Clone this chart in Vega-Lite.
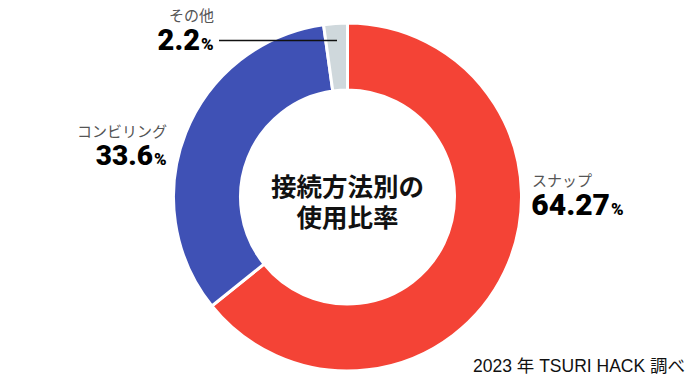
{
  "$schema": "https://vega.github.io/schema/vega-lite/v6.json",
  "autosize": {"type": "fit", "contains": "padding"},
  "width": 695,
  "height": 380,
  "padding": {"left": 0, "right": 0, "top": 14, "bottom": 0},
  "background": "white",
  "view": {"stroke": null},
  "data": {"values": [
    {"category": "スナップ", "value": 64.27, "label": "64.27", "rank": 1},
    {"category": "コンビリング", "value": 33.6, "label": "33.6", "rank": 2},
    {"category": "その他", "value": 2.2, "label": "2.2", "rank": 3}
  ]},
  "layer": [
    {
      "mark": {"type": "arc", "innerRadius": 107, "outerRadius": 174, "stroke": "white", "strokeWidth": 3},
      "encoding": {
        "theta": {"field": "value", "type": "quantitative", "stack": true},
        "order": {"field": "rank", "type": "quantitative"},
        "color": {"field": "category", "type": "nominal", "legend": null,
          "scale": {"domain": ["スナップ", "コンビリング", "その他"], "range": ["#f44336", "#3f51b5", "#cfd8dc"]}}
      }
    },
    {
      "data": {"values": [{}]},
      "mark": {"type": "text", "text": "接続方法別の", "font": "Noto Sans CJK JP", "fontWeight": "bold", "fontSize": 25.5, "align": "center", "baseline": "alphabetic", "dy": -1, "color": "#111"}
    },
    {
      "data": {"values": [{}]},
      "mark": {"type": "text", "text": "使用比率", "font": "Noto Sans CJK JP", "fontWeight": "bold", "fontSize": 25.5, "align": "center", "baseline": "alphabetic", "dy": 30, "color": "#111"}
    },
    {
      "data": {"values": [{}]},
      "mark": {"type": "text", "text": "2023 年 TSURI HACK 調べ", "font": "Liberation Sans, Noto Sans CJK JP", "fontSize": 17.5, "align": "right", "baseline": "alphabetic", "dx": 337.5, "dy": 175, "color": "#111"}
    },
    {
      "data": {"values": [{}]},
      "mark": {"type": "rule", "stroke": "#111", "strokeWidth": 1.5},
      "encoding": {
        "x": {"value": {"expr": "width/2-128.5"}},
        "x2": {"value": {"expr": "width/2-10.5"}},
        "y": {"value": {"expr": "height/2-156.5"}}
      }
    },
    {
      "transform": [{"filter": "datum.category === 'その他'"}],
      "mark": {"type": "text", "font": "Noto Sans CJK JP", "fontSize": 15, "align": "right", "baseline": "alphabetic", "dx": -133.5, "dy": -176, "color": "#555"},
      "encoding": {"text": {"field": "category"}}
    },
    {
      "transform": [{"filter": "datum.category === 'その他'"}],
      "mark": {"type": "text", "font": "Roboto", "fontWeight": 900, "fontSize": 29, "align": "right", "baseline": "alphabetic", "dx": -147.5, "dy": -147, "color": "#000"},
      "encoding": {"text": {"field": "label"}}
    },
    {
      "transform": [{"filter": "datum.category === 'その他'"}],
      "mark": {"type": "text", "text": "%", "font": "Roboto", "fontWeight": 900, "fontSize": 17, "align": "left", "baseline": "alphabetic", "dx": -146.5, "dy": -147, "color": "#000"}
    },
    {
      "transform": [{"filter": "datum.category === 'コンビリング'"}],
      "mark": {"type": "text", "font": "Noto Sans CJK JP", "fontSize": 15, "align": "right", "baseline": "alphabetic", "dx": -180.5, "dy": -60, "color": "#555"},
      "encoding": {"text": {"field": "category"}}
    },
    {
      "transform": [{"filter": "datum.category === 'コンビリング'"}],
      "mark": {"type": "text", "font": "Roboto", "fontWeight": 900, "fontSize": 28, "align": "right", "baseline": "alphabetic", "dx": -194.5, "dy": -32, "color": "#000"},
      "encoding": {"text": {"field": "label"}}
    },
    {
      "transform": [{"filter": "datum.category === 'コンビリング'"}],
      "mark": {"type": "text", "text": "%", "font": "Roboto", "fontWeight": 900, "fontSize": 17, "align": "left", "baseline": "alphabetic", "dx": -193.5, "dy": -32, "color": "#000"}
    },
    {
      "transform": [{"filter": "datum.category === 'スナップ'"}],
      "mark": {"type": "text", "font": "Noto Sans CJK JP", "fontSize": 15, "align": "left", "baseline": "alphabetic", "dx": 184.5, "dy": -11, "color": "#555"},
      "encoding": {"text": {"field": "category"}}
    },
    {
      "transform": [{"filter": "datum.category === 'スナップ'"}],
      "mark": {"type": "text", "font": "Roboto", "fontWeight": 900, "fontSize": 30, "align": "right", "baseline": "alphabetic", "dx": 262.5, "dy": 18, "color": "#000"},
      "encoding": {"text": {"field": "label"}}
    },
    {
      "transform": [{"filter": "datum.category === 'スナップ'"}],
      "mark": {"type": "text", "text": "%", "font": "Roboto", "fontWeight": 900, "fontSize": 17, "align": "left", "baseline": "alphabetic", "dx": 263.5, "dy": 18, "color": "#000"}
    }
  ]
}
